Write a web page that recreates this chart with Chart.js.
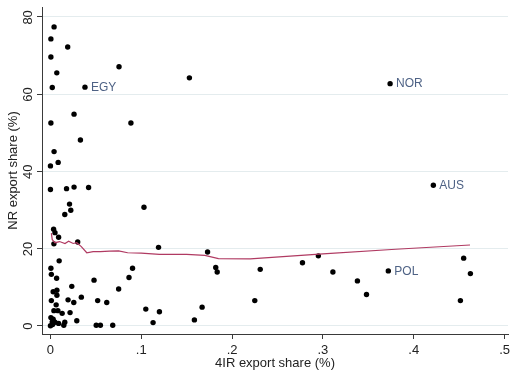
<!DOCTYPE html>
<html>
<head>
<meta charset="utf-8">
<script src="https://cdn.jsdelivr.net/npm/chart.js@4/dist/chart.umd.min.js"></script>
<style>
  html, body { margin: 0; padding: 0; background: #ffffff; }
  canvas { display: block; }
</style>
</head>
<body>
<canvas id="c" width="512" height="374"></canvas>
<script>
// 4IR export share (%) of each country (x)
const irShare = [
  0.004, 0.0005, 0.019, 0.0005, 0.007, 0.0755, 0.002, 0.153, 0.026, 0.0005,
  0.0886, 0.033, 0.004, 0.0085, 0.000, 0.000, 0.0177, 0.026, 0.042, 0.103,
  0.021, 0.0224, 0.0158, 0.0035, 0.005, 0.009, 0.0038, 0.030, 0.119, 0.173,
  0.0096, 0.0005, 0.0904, 0.182, 0.1836, 0.001, 0.0068, 0.0865, 0.048, 0.0235,
  0.0751, 0.003, 0.0071, 0.0071, 0.034, 0.001, 0.0194, 0.0257, 0.052, 0.062,
  0.0063, 0.0038, 0.0082, 0.0129, 0.0216, 0.105, 0.120, 0.167, 0.0005, 0.003,
  0.002, 0.005, 0.009, 0.000, 0.0024, 0.0158, 0.0147, 0.029, 0.0504, 0.055,
  0.0686, 0.113, 0.1585, 0.225, 0.295, 0.2775, 0.231, 0.311, 0.338, 0.348,
  0.455, 0.4624, 0.4514
];
// NR export share (%) of each country (y)
const nrShare = [
  77.4, 74.3, 72.2, 69.6, 65.5, 67.1, 61.7, 64.2, 54.8, 52.5,
  52.5, 48.1, 45.1, 42.3, 41.4, 35.3, 35.5, 35.9, 35.8, 30.7,
  31.5, 29.9, 28.8, 25.0, 24.1, 22.9, 21.2, 21.7, 20.3, 19.1,
  16.8, 14.9, 14.9, 15.1, 13.9, 13.3, 12.3, 12.5, 11.8, 10.2,
  9.5, 8.8, 9.2, 7.9, 7.4, 6.5, 6.7, 6.0, 6.5, 6.0,
  5.4, 3.9, 3.9, 3.2, 3.4, 4.3, 3.6, 4.8, 2.1, 1.7,
  1.0, 0.9, 0.6, 0.0, 0.3, 0.9, 0.1, 1.3, 0.1, 0.1,
  0.1, 0.8, 1.5, 6.5, 18.1, 16.3, 14.6, 13.9, 11.6, 8.1,
  17.5, 13.5, 6.5
];
// labelled countries
const labelNames = ['EGY', 'NOR', 'AUS', 'POL'];
const labelIr = [0.038, 0.374, 0.4216, 0.372];
const labelNr = [61.8, 62.7, 36.4, 14.2];
// lowess smoother
const lowessIr = [0.001, 0.002, 0.005, 0.010, 0.016, 0.020, 0.025, 0.029, 0.034, 0.040,
                  0.047, 0.055, 0.065, 0.075, 0.085, 0.100, 0.120, 0.150, 0.170, 0.185,
                  0.220, 0.300, 0.380, 0.462];
const lowessNr = [24.0, 22.3, 21.5, 21.8, 21.3, 21.9, 21.3, 21.5, 20.5, 18.9,
                  19.2, 19.2, 19.3, 19.4, 18.9, 18.8, 18.5, 18.5, 18.2, 17.4,
                  17.3, 18.6, 19.8, 20.9];
// axis ticks
const xTickStep = 0.1;
const yTickStep = 20;

const scatterPts = irShare.map((x, i) => ({ x: x, y: nrShare[i] }))
  .concat(labelIr.map((x, i) => ({ x: x, y: labelNr[i] })));
const lowessPts = lowessIr.map((x, i) => ({ x: x, y: lowessNr[i] }));

const FONT = "'Liberation Sans', Arial, sans-serif";

const labelPlugin = {
  id: 'mlabels',
  afterDatasetsDraw(chart) {
    const ctx = chart.ctx;
    const xs = chart.scales.x, ys = chart.scales.y;
    ctx.save();
    ctx.font = "12px " + FONT;
    ctx.fillStyle = '#4e6285';
    ctx.textAlign = 'left';
    ctx.textBaseline = 'middle';
    labelNames.forEach((n, i) => {
      ctx.fillText(n, xs.getPixelForValue(labelIr[i]) + 6, ys.getPixelForValue(labelNr[i]) + 0.5);
    });
    ctx.restore();
  }
};

// rotated y tick labels, taken from the y scale's own ticks
const yTickPlugin = {
  id: 'yRotTicks',
  afterDraw(chart) {
    const ctx = chart.ctx;
    const ys = chart.scales.y;
    ctx.save();
    ctx.font = "13px " + FONT;
    ctx.fillStyle = '#222';
    ctx.textAlign = 'center';
    ctx.textBaseline = 'middle';
    ys.ticks.forEach(t => {
      const py = ys.getPixelForValue(t.value);
      ctx.save();
      ctx.translate(ys.right - 14, py + 0.5);
      ctx.rotate(-Math.PI / 2);
      ctx.fillText(String(t.value), 0, 0);
      ctx.restore();
    });
    ctx.restore();
  }
};

const fmtX = v => {
  const r = Math.round(v * 10) / 10;
  if (r === 0) return '0';
  return String(r).replace(/^0/, '');
};

new Chart(document.getElementById('c'), {
  type: 'scatter',
  data: {
    datasets: [
      {
        type: 'line',
        data: lowessPts,
        borderColor: '#b03a62',
        borderWidth: 1.2,
        pointRadius: 0,
        fill: false,
        tension: 0
      },
      {
        data: scatterPts,
        backgroundColor: '#000000',
        borderWidth: 0,
        pointRadius: 2.7
      }
    ]
  },
  options: {
    responsive: false,
    animation: false,
    devicePixelRatio: 1,
    layout: { padding: { top: 7, right: 0, bottom: 0, left: 0 } },
    plugins: { legend: { display: false }, tooltip: { enabled: false } },
    scales: {
      x: {
        type: 'linear',
        min: -0.0093,
        max: 0.5038,
        afterFit(s) { s.height = 40; s.paddingLeft = 0; s.paddingRight = 0; },
        border: { display: true, color: '#3a3a3a', width: 1 },
        grid: { drawOnChartArea: false, drawTicks: true, tickLength: 5, tickColor: '#3a3a3a' },
        ticks: {
          stepSize: xTickStep,
          includeBounds: false,
          autoSkip: false,
          maxRotation: 0,
          minRotation: 0,
          padding: 4,
          color: '#222',
          font: { family: FONT, size: 13 },
          callback: v => fmtX(v)
        },
        title: {
          display: true,
          text: '4IR export share (%)',
          color: '#222',
          font: { family: FONT, size: 13 },
          padding: { top: 0, bottom: 3 }
        }
      },
      y: {
        type: 'linear',
        min: -2.15,
        max: 82.56,
        afterFit(s) { s.width = 42; s.paddingTop = 0; s.paddingBottom = 0; },
        border: { display: true, color: '#3a3a3a', width: 1 },
        grid: { drawOnChartArea: true, color: '#e4ecee', lineWidth: 1, drawTicks: true, tickLength: 5, tickColor: '#3a3a3a' },
        ticks: {
          stepSize: yTickStep,
          includeBounds: false,
          autoSkip: false,
          display: false
        },
        title: {
          display: true,
          text: 'NR export share (%)',
          color: '#222',
          font: { family: FONT, size: 13 },
          padding: { top: 6, bottom: 0 }
        }
      }
    }
  },
  plugins: [labelPlugin, yTickPlugin]
});
</script>
</body>
</html>
